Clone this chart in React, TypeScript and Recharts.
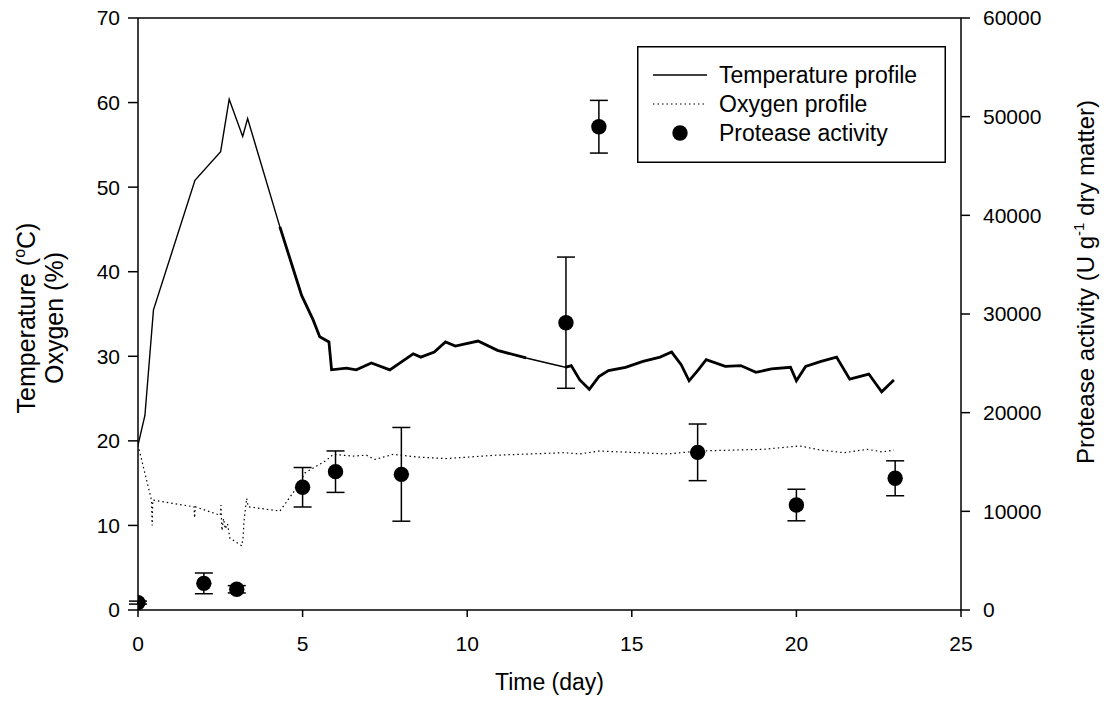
import React from 'react';
import {
  ComposedChart,
  Line,
  Scatter,
  ErrorBar,
  XAxis,
  YAxis,
  Legend,
  ReferenceLine,
} from 'recharts';

const FONT = '"Liberation Sans", Arial, sans-serif';

// temperature profile (°C) vs time (day)
const tempDays = [
  0, 0.21, 0.47, 1.73, 2.51, 2.77, 3.18, 3.33, 4.31, 4.66, 4.97, 5.32, 5.52, 5.8, 5.88, 6.33,
  6.63, 7.09, 7.65, 7.95, 8.36, 8.59, 9.0, 9.34, 9.64, 10.33, 10.92, 11.79, 12.43, 12.98, 13.16,
  13.42, 13.71, 14.0, 14.29, 14.81, 15.34, 15.86, 16.21, 16.5, 16.74, 17.02, 17.26, 17.84, 18.31,
  18.77, 19.24, 19.82, 20.0, 20.28, 20.75, 21.22, 21.62, 22.2, 22.59, 22.96,
];
const tempValues = [
  19.5, 23.0, 35.5, 50.8, 54.2, 60.4, 56.0, 58.1, 45.3, 41.0, 37.2, 34.3, 32.3, 31.7, 28.4, 28.6,
  28.4, 29.2, 28.4, 29.2, 30.3, 29.9, 30.5, 31.7, 31.2, 31.8, 30.7, 29.8, 29.2, 28.7, 28.9,
  27.2, 26.1, 27.6, 28.3, 28.7, 29.4, 29.9, 30.5, 29.0, 27.1, 28.4, 29.6, 28.8, 28.9,
  28.1, 28.5, 28.7, 27.1, 28.8, 29.4, 29.9, 27.3, 27.9, 25.8, 27.2,
];
// stretches where the logged trace is dense (drawn heavier in the original)
const denseRanges = [
  [4.31, 11.79],
  [12.98, 23],
];

// oxygen profile (%) vs time (day)
const oxyDays = [
  0, 0.41, 0.43, 0.45, 1.7, 1.72, 1.74, 2.5, 2.52, 2.55, 2.6, 2.65, 2.72, 2.79, 3.15, 3.19, 3.22,
  3.3, 3.35, 4.31, 4.81, 5.07, 5.72, 5.93, 6.53, 6.94, 7.19, 7.75, 8.45, 9.34, 10.85, 12.95,
  13.42, 14.0, 16.1, 17.02, 19.0, 20.1, 20.75, 21.45, 22.15, 22.6, 22.96,
];
const oxyValues = [
  19.5, 13.0, 10.0, 13.0, 12.2, 10.9, 12.2, 11.2, 12.4, 9.4, 10.8, 9.6, 10.2, 8.5, 7.6, 8.5, 10.5,
  13.2, 12.2, 11.7, 14.4, 16.2, 17.7, 18.4, 18.2, 18.3, 17.8, 18.4, 18.1, 17.9, 18.3, 18.6,
  18.45, 18.8, 18.45, 18.8, 19.0, 19.4, 18.9, 18.6, 19.0, 18.7, 18.9,
];

// protease activity (U g-1 dry matter) with error
const proteaseDays = [0, 2, 3, 5, 6, 8, 13, 14, 17, 20, 23];
const proteaseValues = [750, 2700, 2100, 12440, 14020, 13750, 29120, 48980, 15980, 10640, 13350];
const proteaseErrors = [150, 1050, 370, 2000, 2100, 4750, 6650, 2670, 2870, 1600, 1770];

const xTicks = [0, 5, 10, 15, 20, 25];
const leftTicks = [0, 10, 20, 30, 40, 50, 60, 70];
const rightTicks = [0, 10000, 20000, 30000, 40000, 50000, 60000];

const inDense = (d: number) => denseRanges.some(([a, b]) => d >= a && d <= b);

const tempData = tempDays.map((d, i) => ({ day: d, temp: tempValues[i] }));
const tempDenseData = tempDays.map((d, i) => ({ day: d, temp: inDense(d) ? tempValues[i] : null }));
const oxyData = oxyDays.map((d, i) => ({ day: d, oxy: oxyValues[i] }));
const proteaseData = proteaseDays.map((d, i) => ({
  day: d,
  act: proteaseValues[i],
  err: proteaseErrors[i],
}));

const tickStyle = { fill: '#000', fontSize: 21, fontFamily: FONT };

const LegendBox = () => (
  <svg width={309} height={117} style={{ display: 'block' }}>
    <rect x={0.75} y={0.75} width={307.5} height={115.5} fill="#fff" stroke="#000" strokeWidth={1.5} />
    <line x1={16} x2={70} y1={29} y2={29} stroke="#000" strokeWidth={1.5} />
    <line x1={16} x2={70} y1={58} y2={58} stroke="#000" strokeWidth={1.2} strokeDasharray="1.5 3" />
    <circle cx={43} cy={87} r={7.7} fill="#000" />
    {['Temperature profile', 'Oxygen profile', 'Protease activity'].map((t, i) => (
      <text key={t} x={82} y={29 + i * 29} dy="0.36em" fontSize={23} fontFamily={FONT} fill="#000">
        {t}
      </text>
    ))}
  </svg>
);

const LeftTitle = () => (
  <g fontFamily={FONT} fontSize={25} fill="#000">
    <text transform="translate(35,318) rotate(-90)" textAnchor="middle">
      Temperature (<tspan dy={-10} fontSize={16}>o</tspan>
      <tspan dy={10}>C)</tspan>
    </text>
    <text transform="translate(63,318) rotate(-90)" textAnchor="middle">
      Oxygen (%)
    </text>
  </g>
);

const RightTitle = () => (
  <g fontFamily={FONT} fontSize={24} fill="#000">
    <text transform="translate(1094,282) rotate(-90)" textAnchor="middle">
      Protease activity (U g<tspan dy={-10} fontSize={15}>-1</tspan>
      <tspan dy={10}> dry matter)</tspan>
    </text>
  </g>
);

const Dot = (props: any) => <circle cx={props.cx} cy={props.cy} r={7.7} fill="#000" />;

export default function App() {
  return (
    <div style={{ position: 'absolute', left: 0, top: 0, width: 1108, height: 714, background: '#fff' }}>
      <ComposedChart width={1108} height={714} margin={{ top: 18, right: 0, bottom: 0, left: 0 }}>
        <XAxis
          type="number"
          dataKey="day"
          domain={[0, 25]}
          ticks={xTicks}
          height={104}
          tick={tickStyle}
          tickSize={7}
          tickMargin={19}
          axisLine={{ stroke: '#000', strokeWidth: 1.5 }}
          tickLine={{ stroke: '#000', strokeWidth: 1.5 }}
          allowDataOverflow
          label={{
            value: 'Time (day)',
            position: 'insideBottom',
            offset: 24,
            fill: '#000',
            fontSize: 23,
            fontFamily: FONT,
          }}
        />
        <YAxis
          yAxisId="left"
          type="number"
          domain={[0, 70]}
          ticks={leftTicks}
          width={138}
          tick={tickStyle}
          tickSize={10}
          tickMargin={8}
          axisLine={{ stroke: '#000', strokeWidth: 1.5 }}
          tickLine={{ stroke: '#000', strokeWidth: 1.5 }}
          label={{ content: () => <LeftTitle /> }}
        />
        <YAxis
          yAxisId="right"
          orientation="right"
          type="number"
          domain={[0, 60000]}
          ticks={rightTicks}
          width={147}
          tick={tickStyle}
          tickSize={9}
          tickMargin={13}
          axisLine={{ stroke: '#000', strokeWidth: 1.5 }}
          tickLine={{ stroke: '#000', strokeWidth: 1.5 }}
          label={{ content: () => <RightTitle /> }}
        />
        <ReferenceLine yAxisId="left" y={70} stroke="#000" strokeWidth={1.5} />
        <Line
          yAxisId="left"
          data={tempData}
          dataKey="temp"
          type="linear"
          stroke="#000"
          strokeWidth={1.4}
          dot={false}
          isAnimationActive={false}
          name="Temperature profile"
          legendType="none"
        />
        <Line
          yAxisId="left"
          data={tempDenseData}
          dataKey="temp"
          type="linear"
          stroke="#000"
          strokeWidth={2.8}
          dot={false}
          connectNulls={false}
          isAnimationActive={false}
          legendType="none"
        />
        <Line
          yAxisId="left"
          data={oxyData}
          dataKey="oxy"
          type="linear"
          stroke="#000"
          strokeWidth={1.2}
          strokeDasharray="1.5 3"
          dot={false}
          isAnimationActive={false}
          name="Oxygen profile"
        />
        <Scatter
          yAxisId="right"
          data={proteaseData}
          dataKey="act"
          shape={<Dot />}
          isAnimationActive={false}
          name="Protease activity"
        >
          <ErrorBar dataKey="err" direction="y" width={9} stroke="#000" strokeWidth={1.5} />
        </Scatter>
        <Legend
          layout="vertical"
          align="center"
          verticalAlign="middle"
          content={() => <LegendBox />}
          wrapperStyle={{ left: 637, top: 46, width: 309, height: 117 }}
        />
      </ComposedChart>
    </div>
  );
}
